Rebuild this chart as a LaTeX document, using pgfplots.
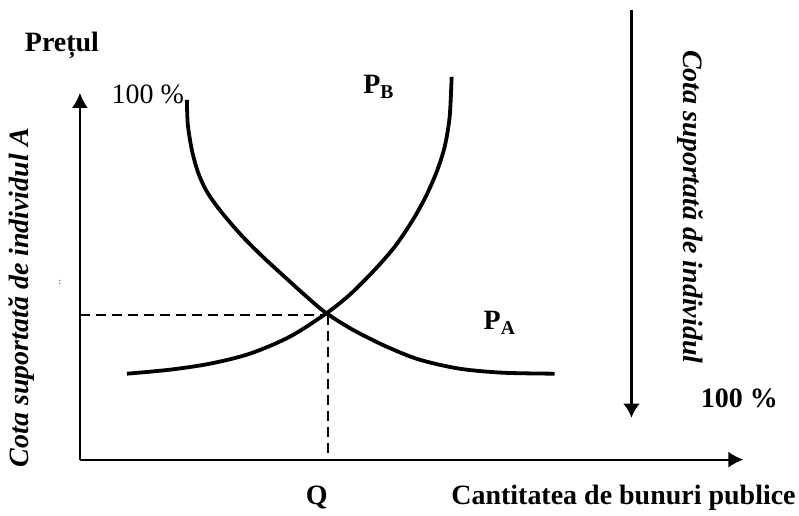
\documentclass[border=0pt]{standalone}
\usepackage{pgfplots}
\pgfplotsset{compat=1.18}
\usepackage{fontspec}
\setmainfont{Liberation Serif}
\usetikzlibrary{arrows.meta}

\newcommand{\lbl}{\fontsize{28}{32}\selectfont}

\begin{document}
\begin{tikzpicture}
\begin{axis}[
    x=1pt, y=1pt,
    xmin=0, xmax=799, ymin=0, ymax=516,
    hide axis, clip=false,
    every axis plot/.append style={black},
  ]
% frame that fixes the page size
\addplot[draw=none] coordinates {(0,0) (799,516)};

% axes
\addplot[line width=2pt, -{Latex[length=15pt,width=16pt]}] coordinates {(80,56) (80,423)};
\addplot[line width=2pt, -{Latex[length=15pt,width=16pt]}] coordinates {(80,56) (744,56)};
% share of B arrow (top down)
\addplot[line width=3pt, -{Latex[length=14pt,width=17pt]}] coordinates {(632,506) (632,98)};

% P_A
\addplot[line width=3.8pt, smooth] coordinates {
  (187,416) (188,391) (192,366) (198,344) (206,326) (216,311) (228,296)
  (243,279) (263,259) (287,237) (307,219) (326,203) (353,186) (387,169)
  (420,156) (460,147) (503,143) (555,142)
};
% P_B
\addplot[line width=3.8pt, smooth] coordinates {
  (127,142) (170,146) (210,152) (250,162) (290,179) (326,202) (350,221)
  (375,246) (395,269) (412,294) (426,319) (437,344) (445,369) (450,399) (452,439)
};

% dashed guides
\addplot[line width=2pt, dash pattern=on 10pt off 6pt] coordinates {(80,201) (326,201)};
\addplot[line width=2pt, dash pattern=on 10pt off 6pt] coordinates {(328,201) (328,56)};

% texts
\node[font=\lbl\bfseries] at (axis cs:62,471) {Prețul};
\node[font=\lbl] at (axis cs:148,422) {100 \%};
\node[font=\lbl\bfseries] at (axis cs:379,429) {P\textsubscript{B}};
\node[font=\lbl\bfseries] at (axis cs:500,193) {P\textsubscript{A}};
\node[font=\lbl\bfseries] at (axis cs:740,117) {100 \%};
\node[font=\lbl\bfseries] at (axis cs:317,18) {Q};
\node[font=\lbl\bfseries] at (axis cs:624,18) {Cantitatea de bunuri publice};
\node[font=\fontsize{9}{10}\selectfont] at (axis cs:60,233) {:};
\node[rotate=90, font=\lbl\bfseries\itshape] at (axis cs:22,218) {Cota suportată de individul A};
\node[rotate=-90, font=\lbl\bfseries\itshape] at (axis cs:691,309) {Cota suportată de individul};
\end{axis}
\end{tikzpicture}
\end{document}
